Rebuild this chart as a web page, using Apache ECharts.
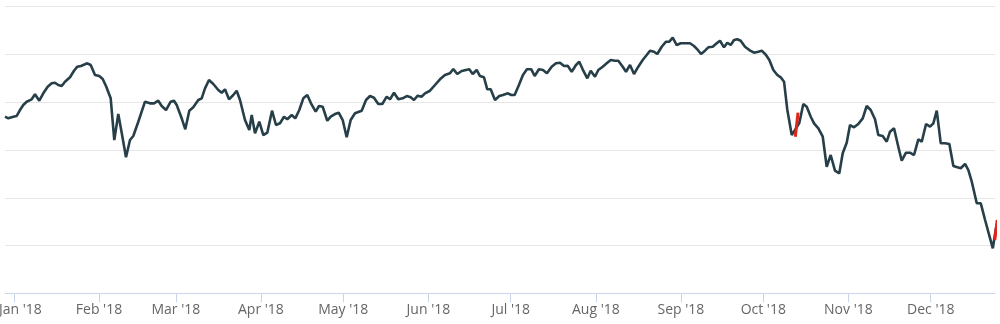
<!DOCTYPE html>
<html>
<head>
<meta charset="utf-8">
<script src="https://cdn.jsdelivr.net/npm/echarts@6/dist/echarts.min.js"></script>
<style>
html,body{margin:0;padding:0;background:#fff;}
#chart{width:1000px;height:324px;}
</style>
</head>
<body>
<div id="chart"></div>
<script>
// Day of year 2018 (Jan 1 = 0) for each point
var days = [-3.24,-2.04,-0.22,1.02,2.22,3.42,4.66,6.48,7.69,9.25,10.71,12.31,13.77,14.97,16.17,17.41,18.62,20.44,21.90,23.10,24.44,25.90,26.74,27.98,29.54,31.11,32.35,33.55,35.26,36.57,38.03,39.27,40.84,42.29,43.50,45.32,47.76,49.58,51.04,52.60,53.84,55.41,57.12,58.32,59.31,61.13,62.44,63.90,65.35,67.18,68.41,69.62,71.07,72.64,74.46,75.70,76.90,78.36,79.93,81.16,82.37,84.19,85.76,
86.63,87.83,89.40,90.86,92.31,94.03,95.48,96.94,98.40,99.60,101.20,102.51,103.97,105.43,106.88,108.23,109.94,111.14,112.49,114.17,115.41,116.97,118.32,119.78,121.23,122.69,124.26,126.70,128.27,129.73,131.18,132.75,134.21,135.81,137.01,138.47,140.03,141.64,143.10,144.55,145.75,147.10,148.56,149.76,151.58,153.40,155.22,157.04,158.86,160.07,161.52,163.13,164.69,165.89,167.13,168.59,169.79,171.25,172.45,173.69,175.26,176.83,
178.15,179.97,181.21,182.41,183.98,185.44,186.90,188.50,189.71,191.27,192.73,194.19,195.91,197.48,198.94,200.40,201.74,203.20,204.77,205.97,207.43,208.89,210.13,211.69,212.90,214.50,215.96,217.42,218.98,220.19,221.79,222.99,224.45,225.91,227.47,229.07,230.53,231.73,233.19,234.39,236.00,237.57,238.77,240.01,241.46,242.92,244.48,246.30,247.76,248.96,250.31,251.77,252.97,254.57,256.03,257.23,258.69,259.89,261.13,262.34,263.54,264.77,266.34,267.91,
269.62,271.19,272.43,274.00,275.20,276.66,278.11,279.35,280.56,281.76,283.36,284.57,286.13,287.59,288.83,290.29,291.49,293.06,294.66,296.10,297.55,299.12,300.69,301.93,303.39,304.59,306.05,307.61,309.22,310.67,312.13,313.70,314.90,316.50,317.96,319.16,320.62,322.19,323.43,324.99,326.45,327.91,329.48,330.72,332.29,333.75,334.95,336.19,337.65,339.22,340.78,342.24,343.70,344.94,346.51,347.71,348.95,350.77,352.23,353.80,356.61,357.78];
var values = [369.7,366.3,369.7,371.2,383.7,394.2,401.1,406.1,416.6,403.2,418.7,432.5,439.6,440.9,436.1,434.0,443.0,452.2,466.0,474.4,475.8,479.4,481.5,477.9,457.0,454.9,448.6,434.0,408.2,320.9,375.3,336.2,284.7,320.9,329.3,359.2,401.1,397.7,397.7,403.2,392.1,383.7,401.1,403.2,394.2,366.3,343.3,382.3,389.4,404.7,408.2,429.1,446.5,438.2,425.6,419.9,427.1,406.1,415.1,424.1,404.7,362.8,341.9,
373.3,334.9,359.2,331.4,336.2,382.3,352.3,355.9,369.7,364.3,373.3,366.3,383.7,408.2,415.1,397.7,380.2,392.1,390.6,361.3,369.7,375.3,378.1,362.8,326.6,362.8,376.8,382.3,404.7,413.0,409.5,396.3,396.3,411.6,406.1,419.9,406.1,408.2,413.0,410.3,404.7,413.7,411.6,418.7,424.1,436.1,448.0,457.0,460.5,469.6,459.1,465.4,467.5,468.9,459.1,467.5,454.9,452.2,427.1,427.1,404.7,413.0,
415.1,418.7,415.1,415.1,436.1,457.0,468.9,468.9,454.9,468.9,467.5,460.5,474.4,481.5,482.7,475.8,476.5,463.9,477.9,484.8,466.0,450.1,466.0,453.4,467.5,474.4,481.5,488.4,486.9,486.9,474.4,463.9,477.9,459.1,474.4,488.4,498.9,507.9,505.8,501.0,516.2,526.7,526.7,535.1,519.8,523.4,523.4,523.4,517.7,510.8,501.0,507.9,515.0,516.2,523.4,528.8,515.0,524.6,519.8,530.3,531.7,528.8,516.2,509.3,
503.7,505.8,507.9,498.9,488.4,467.5,457.0,452.2,443.0,383.7,331.4,341.9,357.1,396.3,390.6,369.7,355.9,345.4,327.8,265.0,289.5,256.7,251.2,293.1,315.3,352.3,347.5,354.4,366.3,392.1,383.7,364.3,331.4,329.3,317.4,338.3,345.4,306.9,277.6,294.3,294.3,289.5,322.4,317.4,354.4,348.8,355.9,382.3,314.0,314.0,312.5,266.5,263.8,261.7,270.7,258.1,233.6,188.4,188.4,153.4,94.2,136.7];
// Highlighted (red) moves
var redDays = [284.66, 285.66, null, 357.33, 358.22];
var redValues = [327.8, 378.1, null, 111.6, 153.4];
// Month ticks
var tickDays = [0,31,59,90,120,151,181,212,243,273,304,334];
var tickLabels = ["Jan '18","Feb '18","Mar '18","Apr '18","May '18","Jun '18","Jul '18","Aug '18","Sep '18","Oct '18","Nov '18","Dec '18"];

var mainData = days.map(function(d,i){return [d, values[i]];});
var redData = redDays.map(function(d,i){return d===null ? [null,null] : [d, redValues[i]];});

var FONT = '"Open Sans", sans-serif';
var chart = echarts.init(document.getElementById('chart'), null, {renderer:'canvas'});
chart.setOption({
  animation:false,
  backgroundColor:'#ffffff',
  grid:{left:5, right:5, top:6.7, bottom:30.7, containLabel:false, outerBoundsMode:'none'},
  xAxis:{
    type:'value', min:-3.24, max:357.41,
    axisLine:{show:true, lineStyle:{color:'#ccd6eb', width:1}},
    axisTick:{show:true, customValues:tickDays, length:9, lineStyle:{color:'#ccd6eb'}},
    axisLabel:{
      show:true, customValues:tickDays, margin:10, hideOverlap:false,
      color:'#666666', fontSize:14, fontFamily:FONT,
      formatter:function(v){
        var i = tickDays.indexOf(Math.round(v));
        if(i===0) return '{first|'+tickLabels[i]+'}';
        return i>=0 ? tickLabels[i] : '';
      },
      rich:{first:{padding:[0,0,0,13], color:'#666666', fontSize:14, fontFamily:FONT}}
    },
    splitLine:{show:false}
  },
  yAxis:{
    type:'value', min:0, max:600, interval:100,
    axisLine:{show:false}, axisTick:{show:false}, axisLabel:{show:false},
    splitLine:{show:true, lineStyle:{color:'#e6e6e6', width:1}}
  },
  series:[
    {type:'line', data:mainData, showSymbol:false, symbol:'none', clip:false,
     lineStyle:{color:'#263f48', width:2.6}, itemStyle:{color:'#263f48'}},
    {type:'line', data:redData, showSymbol:false, symbol:'none', clip:false, connectNulls:false,
     lineStyle:{color:'#e2231a', width:3}, itemStyle:{color:'#e2231a'}}
  ]
});
</script>
</body>
</html>
